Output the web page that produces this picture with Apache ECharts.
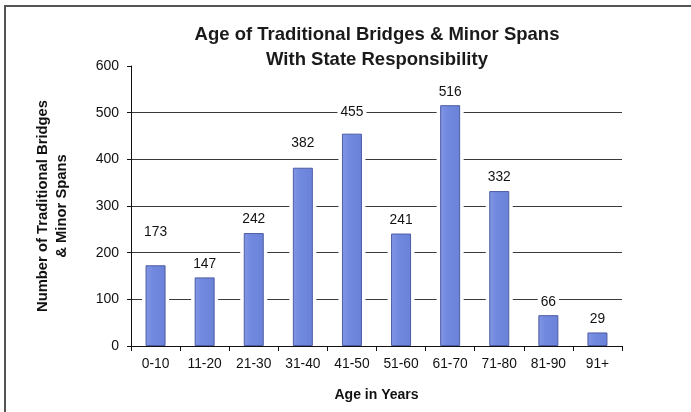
<!DOCTYPE html>
<html>
<head>
<meta charset="utf-8">
<script src="https://cdn.jsdelivr.net/npm/echarts@6/dist/echarts.min.js"></script>
<style>
  html, body { margin: 0; padding: 0; background: #fff; }
  #chart { width: 691px; height: 412px; }
</style>
</head>
<body>
<div id="chart"></div>
<script>
// Age groups of state-owned traditional bridges and minor spans
const ageGroups = ['0-10', '11-20', '21-30', '31-40', '41-50', '51-60', '61-70', '71-80', '81-90', '91+'];
const bridgeCounts = [173, 147, 242, 382, 455, 241, 516, 332, 66, 29];
const yTicks = [0, 100, 200, 300, 400, 500, 600];

const FONT = '"Liberation Sans", Arial, sans-serif';

// a few labels sit higher above their bars to stay clear of the grid lines
const labelLift = { 0: 20, 3: 11, 4: 8 };

const barData = bridgeCounts.map((v, i) => ({
  value: v,
  label: { distance: 5 + (labelLift[i] || 0) }
}));

const chart = echarts.init(document.getElementById('chart'), null, { renderer: 'canvas' });

chart.setOption({
  backgroundColor: '#fff',
  animation: false,
  title: {
    text: 'Age of Traditional Bridges & Minor Spans\nWith State Responsibility',
    left: 372,
    top: 17,
    textAlign: 'center',
    textStyle: {
      fontFamily: FONT,
      fontSize: 18.5,
      fontWeight: 'bold',
      color: '#1a1a1a',
      lineHeight: 25
    }
  },
  grid: { left: 131, right: 69, top: 66, bottom: 66 },
  xAxis: [
    {
      type: 'category',
      data: ageGroups,
      z: 5,
      name: 'Age in Years',
      nameLocation: 'middle',
      nameGap: 42,
      nameTextStyle: { fontFamily: FONT, fontSize: 14, fontWeight: 'bold', color: '#111' },
      axisLine: { lineStyle: { color: '#111', width: 1 } },
      axisTick: { show: true, length: 5, lineStyle: { color: '#111' } },
      axisLabel: { fontFamily: FONT, fontSize: 13.8, color: '#111', margin: 11, interval: 0 },
      splitLine: { show: false }
    },
    {
      type: 'category',
      data: ageGroups,
      show: false
    }
  ],
  yAxis: {
    type: 'value',
    min: 0,
    max: 600,
    interval: 100,
    name: 'Number of Traditional Bridges\n& Minor Spans',
    nameLocation: 'middle',
    nameRotate: 90,
    nameGap: 60,
    nameTextStyle: { fontFamily: FONT, fontSize: 14.8, fontWeight: 'bold', color: '#111', lineHeight: 19 },
    axisLine: { show: true, lineStyle: { color: '#111', width: 1 } },
    axisTick: { show: true, length: 4, lineStyle: { color: '#111' } },
    axisLabel: {
      fontFamily: FONT, fontSize: 14, color: '#111', margin: 12,
      formatter: v => (yTicks.includes(v) ? String(v) : '')
    },
    splitLine: { show: true, showMaxLine: false, lineStyle: { color: '#3a3a3a', width: 1 } }
  },
  graphic: [
    {
      type: 'polyline',
      shape: { points: [[5, 412], [5, 6], [691, 6]] },
      style: { stroke: '#555', lineWidth: 2, fill: null },
      silent: true
    }
  ],
  series: [
    {
      // white halo behind each bar that breaks the grid lines
      type: 'bar',
      xAxisIndex: 1,
      data: bridgeCounts,
      barWidth: 27,
      silent: true,
      z: 2,
      itemStyle: { color: '#fff' }
    },
    {
      type: 'bar',
      xAxisIndex: 0,
      data: barData,
      barWidth: 20,
      z: 3,
      itemStyle: {
        color: new echarts.graphic.LinearGradient(0, 0, 1, 0, [
          { offset: 0, color: '#8396e4' },
          { offset: 0.35, color: '#7189df' },
          { offset: 1, color: '#6a82d8' }
        ]),
        borderColor: '#4d5ca3',
        borderWidth: 1
      },
      label: {
        show: true,
        position: 'top',
        fontFamily: FONT,
        fontSize: 13.8,
        color: '#111',
        lineHeight: 15,
        backgroundColor: '#fff',
        padding: [1, 3]
      }
    }
  ]
});
</script>
</body>
</html>
